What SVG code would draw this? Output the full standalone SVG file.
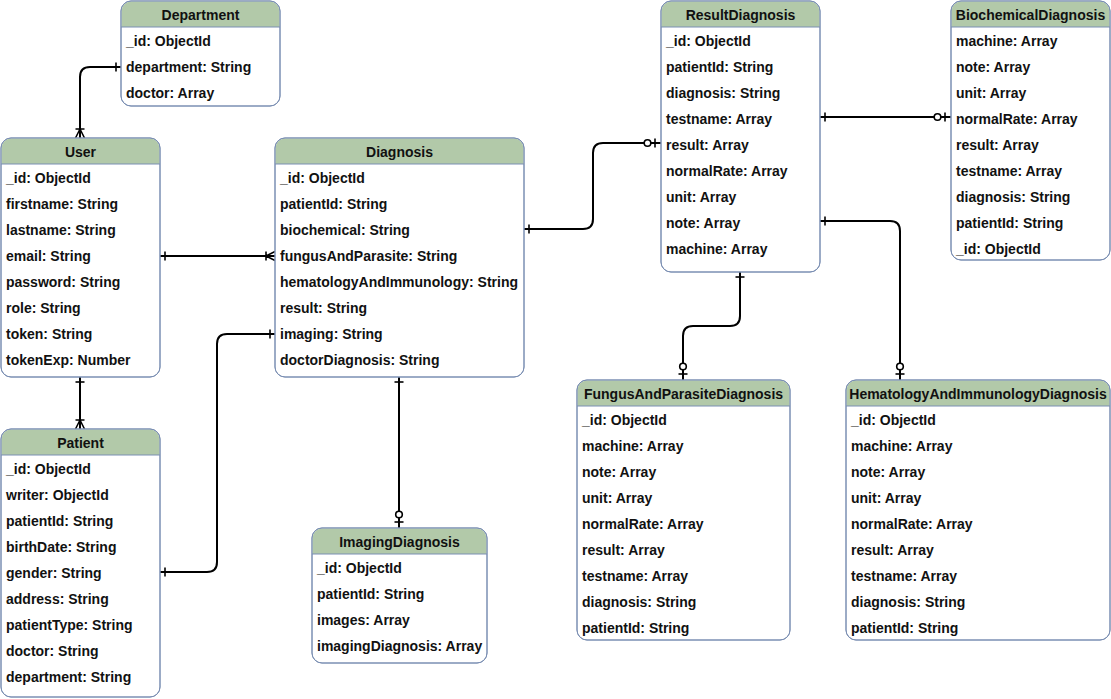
<svg xmlns="http://www.w3.org/2000/svg" width="1111" height="699" viewBox="0 0 1111 699">
<style>
.body{fill:#ffffff;stroke:#7b8fb3;stroke-width:1}
.hdr{fill:#b2c9a9;stroke:none}
.sep{stroke:#7b8fb3;stroke-width:1}
text{font-family:"Liberation Sans",Arial,sans-serif;font-weight:bold;font-size:14px;fill:#111111}
.ht{text-anchor:middle}
.conn{fill:none;stroke:#000000;stroke-width:2}
.mk{fill:none;stroke:#000000;stroke-width:1.6}
.mc{fill:#ffffff;stroke:#000000;stroke-width:1.6}
</style>
<defs>
<marker id="one" markerUnits="userSpaceOnUse" markerWidth="30" markerHeight="30" refX="0" refY="0" orient="auto-start-reverse" overflow="visible" viewBox="-15 -15 30 30">
<path class="mk" d="M-5,-4.5V4.5"/>
</marker>
<marker id="zeroOne" markerUnits="userSpaceOnUse" markerWidth="40" markerHeight="30" refX="0" refY="0" orient="auto-start-reverse" overflow="visible" viewBox="-20 -15 40 30">
<path class="mk" d="M-6,-4.5V4.5"/>
<circle class="mc" cx="-13.5" cy="0" r="3.3"/>
</marker>
<marker id="oneMany" markerUnits="userSpaceOnUse" markerWidth="30" markerHeight="30" refX="0" refY="0" orient="auto-start-reverse" overflow="visible" viewBox="-15 -15 30 30">
<path class="mk" d="M-9,-4.5V4.5M-9,0L0,-4.5M-9,0L0,4.5M-9,0L0,0"/>
</marker>
</defs>

<g id="connectors">
<path class="conn" d="M121,67H90Q80,67 80,77V138" marker-start="url(#one)" marker-end="url(#oneMany)"/>
<path class="conn" d="M160,256H275" marker-start="url(#one)" marker-end="url(#oneMany)"/>
<path class="conn" d="M80,377V429" marker-start="url(#one)" marker-end="url(#oneMany)"/>
<path class="conn" d="M160,572H207Q217,572 217,562V344Q217,334 227,334H275" marker-start="url(#one)" marker-end="url(#one)"/>
<path class="conn" d="M524,229H583Q593,229 593,219V153Q593,143 603,143H661" marker-start="url(#one)" marker-end="url(#zeroOne)"/>
<path class="conn" d="M399,377V528" marker-start="url(#one)" marker-end="url(#zeroOne)"/>
<path class="conn" d="M820,117H951" marker-start="url(#one)" marker-end="url(#zeroOne)"/>
<path class="conn" d="M820,221H890Q900,221 900,231V380" marker-start="url(#one)" marker-end="url(#zeroOne)"/>
<path class="conn" d="M740,272V316Q740,326 730,326H693Q683,326 683,336V380" marker-start="url(#one)" marker-end="url(#zeroOne)"/>
</g>

<g id="Department" transform="translate(121,1)">
<rect class="body" x="0" y="0" width="159" height="105" rx="10"/>
<path class="hdr" d="M0.5,26V10A9.5,9.5 0 0 1 10,0.5H149A9.5,9.5 0 0 1 158.5,10V26Z"/>
<rect x="0" y="0" width="159" height="105" rx="10" fill="none" stroke="#7b8fb3"/>
<line class="sep" x1="0" y1="26" x2="159" y2="26"/>
<text class="ht" x="79.5" y="19">Department</text>
<text x="5" y="45">_id: ObjectId</text>
<text x="5" y="71">department: String</text>
<text x="5" y="97">doctor: Array</text>
</g>

<g id="User" transform="translate(1,138)">
<rect class="body" x="0" y="0" width="159" height="239" rx="10"/>
<path class="hdr" d="M0.5,26V10A9.5,9.5 0 0 1 10,0.5H149A9.5,9.5 0 0 1 158.5,10V26Z"/>
<rect x="0" y="0" width="159" height="239" rx="10" fill="none" stroke="#7b8fb3"/>
<line class="sep" x1="0" y1="26" x2="159" y2="26"/>
<text class="ht" x="79.5" y="19">User</text>
<text x="5" y="45">_id: ObjectId</text>
<text x="5" y="71">firstname: String</text>
<text x="5" y="97">lastname: String</text>
<text x="5" y="123">email: String</text>
<text x="5" y="149">password: String</text>
<text x="5" y="175">role: String</text>
<text x="5" y="201">token: String</text>
<text x="5" y="227">tokenExp: Number</text>
</g>

<g id="Patient" transform="translate(1,429)">
<rect class="body" x="0" y="0" width="159" height="268" rx="10"/>
<path class="hdr" d="M0.5,26V10A9.5,9.5 0 0 1 10,0.5H149A9.5,9.5 0 0 1 158.5,10V26Z"/>
<rect x="0" y="0" width="159" height="268" rx="10" fill="none" stroke="#7b8fb3"/>
<line class="sep" x1="0" y1="26" x2="159" y2="26"/>
<text class="ht" x="79.5" y="19">Patient</text>
<text x="5" y="45">_id: ObjectId</text>
<text x="5" y="71">writer: ObjectId</text>
<text x="5" y="97">patientId: String</text>
<text x="5" y="123">birthDate: String</text>
<text x="5" y="149">gender: String</text>
<text x="5" y="175">address: String</text>
<text x="5" y="201">patientType: String</text>
<text x="5" y="227">doctor: String</text>
<text x="5" y="253">department: String</text>
</g>

<g id="Diagnosis" transform="translate(275,138)">
<rect class="body" x="0" y="0" width="249" height="239" rx="10"/>
<path class="hdr" d="M0.5,26V10A9.5,9.5 0 0 1 10,0.5H239A9.5,9.5 0 0 1 248.5,10V26Z"/>
<rect x="0" y="0" width="249" height="239" rx="10" fill="none" stroke="#7b8fb3"/>
<line class="sep" x1="0" y1="26" x2="249" y2="26"/>
<text class="ht" x="124.5" y="19">Diagnosis</text>
<text x="5" y="45">_id: ObjectId</text>
<text x="5" y="71">patientId: String</text>
<text x="5" y="97">biochemical: String</text>
<text x="5" y="123">fungusAndParasite: String</text>
<text x="5" y="149">hematologyAndImmunology: String</text>
<text x="5" y="175">result: String</text>
<text x="5" y="201">imaging: String</text>
<text x="5" y="227">doctorDiagnosis: String</text>
</g>

<g id="ImagingDiagnosis" transform="translate(312,528)">
<rect class="body" x="0" y="0" width="175" height="135" rx="10"/>
<path class="hdr" d="M0.5,26V10A9.5,9.5 0 0 1 10,0.5H165A9.5,9.5 0 0 1 174.5,10V26Z"/>
<rect x="0" y="0" width="175" height="135" rx="10" fill="none" stroke="#7b8fb3"/>
<line class="sep" x1="0" y1="26" x2="175" y2="26"/>
<text class="ht" x="87.5" y="19">ImagingDiagnosis</text>
<text x="5" y="45">_id: ObjectId</text>
<text x="5" y="71">patientId: String</text>
<text x="5" y="97">images: Array</text>
<text x="5" y="123">imagingDiagnosis: Array</text>
</g>

<g id="ResultDiagnosis" transform="translate(661,1)">
<rect class="body" x="0" y="0" width="159" height="271" rx="10"/>
<path class="hdr" d="M0.5,26V10A9.5,9.5 0 0 1 10,0.5H149A9.5,9.5 0 0 1 158.5,10V26Z"/>
<rect x="0" y="0" width="159" height="271" rx="10" fill="none" stroke="#7b8fb3"/>
<line class="sep" x1="0" y1="26" x2="159" y2="26"/>
<text class="ht" x="79.5" y="19">ResultDiagnosis</text>
<text x="5" y="45">_id: ObjectId</text>
<text x="5" y="71">patientId: String</text>
<text x="5" y="97">diagnosis: String</text>
<text x="5" y="123">testname: Array</text>
<text x="5" y="149">result: Array</text>
<text x="5" y="175">normalRate: Array</text>
<text x="5" y="201">unit: Array</text>
<text x="5" y="227">note: Array</text>
<text x="5" y="253">machine: Array</text>
</g>

<g id="BiochemicalDiagnosis" transform="translate(951,1)">
<rect class="body" x="0" y="0" width="159" height="259" rx="10"/>
<path class="hdr" d="M0.5,26V10A9.5,9.5 0 0 1 10,0.5H149A9.5,9.5 0 0 1 158.5,10V26Z"/>
<rect x="0" y="0" width="159" height="259" rx="10" fill="none" stroke="#7b8fb3"/>
<line class="sep" x1="0" y1="26" x2="159" y2="26"/>
<text class="ht" x="79.5" y="19">BiochemicalDiagnosis</text>
<text x="5" y="45">machine: Array</text>
<text x="5" y="71">note: Array</text>
<text x="5" y="97">unit: Array</text>
<text x="5" y="123">normalRate: Array</text>
<text x="5" y="149">result: Array</text>
<text x="5" y="175">testname: Array</text>
<text x="5" y="201">diagnosis: String</text>
<text x="5" y="227">patientId: String</text>
<text x="5" y="253">_id: ObjectId</text>
</g>

<g id="FungusAndParasiteDiagnosis" transform="translate(577,380)">
<rect class="body" x="0" y="0" width="213" height="260" rx="10"/>
<path class="hdr" d="M0.5,26V10A9.5,9.5 0 0 1 10,0.5H203A9.5,9.5 0 0 1 212.5,10V26Z"/>
<rect x="0" y="0" width="213" height="260" rx="10" fill="none" stroke="#7b8fb3"/>
<line class="sep" x1="0" y1="26" x2="213" y2="26"/>
<text class="ht" x="106.5" y="19">FungusAndParasiteDiagnosis</text>
<text x="5" y="45">_id: ObjectId</text>
<text x="5" y="71">machine: Array</text>
<text x="5" y="97">note: Array</text>
<text x="5" y="123">unit: Array</text>
<text x="5" y="149">normalRate: Array</text>
<text x="5" y="175">result: Array</text>
<text x="5" y="201">testname: Array</text>
<text x="5" y="227">diagnosis: String</text>
<text x="5" y="253">patientId: String</text>
</g>

<g id="HematologyAndImmunologyDiagnosis" transform="translate(846,380)">
<rect class="body" x="0" y="0" width="264" height="260" rx="10"/>
<path class="hdr" d="M0.5,26V10A9.5,9.5 0 0 1 10,0.5H254A9.5,9.5 0 0 1 263.5,10V26Z"/>
<rect x="0" y="0" width="264" height="260" rx="10" fill="none" stroke="#7b8fb3"/>
<line class="sep" x1="0" y1="26" x2="264" y2="26"/>
<text class="ht" x="132" y="19">HematologyAndImmunologyDiagnosis</text>
<text x="5" y="45">_id: ObjectId</text>
<text x="5" y="71">machine: Array</text>
<text x="5" y="97">note: Array</text>
<text x="5" y="123">unit: Array</text>
<text x="5" y="149">normalRate: Array</text>
<text x="5" y="175">result: Array</text>
<text x="5" y="201">testname: Array</text>
<text x="5" y="227">diagnosis: String</text>
<text x="5" y="253">patientId: String</text>
</g>
</svg>
